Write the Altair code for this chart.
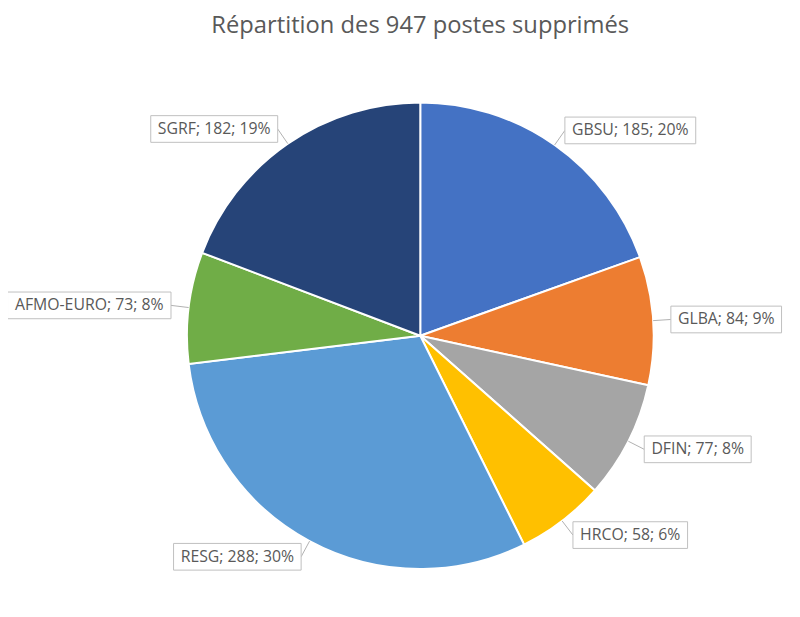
import altair as alt
import pandas as pd

categories = ["GBSU", "GLBA", "DFIN", "HRCO", "RESG", "AFMO-EURO", "SGRF"]
values = [185, 84, 77, 58, 288, 73, 182]
colors = ["#4472C4", "#ED7D31", "#A5A5A5", "#FFC000", "#5B9BD5", "#70AD47", "#264478"]

TITLE = "Répartition des 947 postes supprimés"
FONT = "Open Sans"
LABEL_SIZE = 16

# approximate Open Sans advance widths (em) for box sizing
CW = {"A": .633, "B": .647, "C": .631, "D": .731, "E": .556, "F": .517, "G": .728,
      "H": .738, "I": .279, "L": .519, "M": .907, "N": .764, "O": .789, "R": .618,
      "S": .549, "U": .733, ";": .268, " ": .26, "%": .823, "-": .322}


def text_w(s, size):
    return sum(CW.get(ch, .572) for ch in s) * size


total = sum(values)
labels = [f"{c}; {v}; {round(100 * v / total)}%" for c, v in zip(categories, values)]
df = pd.DataFrame({
    "idx": list(range(len(categories))),
    "cat": categories,
    "value": values,
    "label": labels,
})
df["bw"] = [text_w(s, LABEL_SIZE) + 14 for s in labels]

W, H = 752, 556
R_PIE = 236
R_LAB = 254

xs = alt.Scale(domain=[-W / 2, W / 2], nice=False, zero=False)
ys = alt.Scale(domain=[-H / 2, H / 2], nice=False, zero=False)

arcs = alt.Chart(df).mark_arc(outerRadius=R_PIE, stroke="white", strokeWidth=2).encode(
    theta=alt.Theta("value:Q", stack=True),
    order=alt.Order("idx:Q"),
    color=alt.Color("cat:N", scale=alt.Scale(domain=categories, range=colors), legend=None),
)

lab = (
    alt.Chart(df)
    .transform_joinaggregate(total="sum(value)")
    .transform_window(cum="sum(value)", sort=[alt.SortField("idx")], frame=[None, 0])
    .transform_calculate(mid="2*PI*(datum.cum - datum.value/2)/datum.total")
    .transform_calculate(ex=f"{R_PIE}*sin(datum.mid)")
    .transform_calculate(ey=f"{R_PIE}*cos(datum.mid)")
    .transform_calculate(ax=f"{R_LAB}*sin(datum.mid)")
    .transform_calculate(ay=f"{R_LAB}*cos(datum.mid)")
    .transform_calculate(side="sin(datum.mid) >= 0 ? 1 : -1")
    .transform_calculate(bx2="datum.ax + datum.side*datum.bw")
    .transform_calculate(by1="datum.ay - 13.5")
    .transform_calculate(by2="datum.ay + 13.5")
    .transform_calculate(tx="datum.ax + datum.side*datum.bw/2")
)

leader = lab.mark_rule(color="#B0B0B0", strokeWidth=1).encode(
    x=alt.X("ex:Q", scale=xs, axis=None),
    y=alt.Y("ey:Q", scale=ys, axis=None),
    x2="ax:Q",
    y2="ay:Q",
)

boxes = lab.mark_rect(fill="white", stroke="#BFBFBF", strokeWidth=1).encode(
    x=alt.X("ax:Q", scale=xs, axis=None),
    x2="bx2:Q",
    y=alt.Y("by1:Q", scale=ys, axis=None),
    y2="by2:Q",
)

texts = lab.mark_text(font=FONT, fontSize=LABEL_SIZE, color="#595959").encode(
    x=alt.X("tx:Q", scale=xs, axis=None),
    y=alt.Y("ay:Q", scale=ys, axis=None),
    text="label:N",
)

chart = (
    alt.layer(arcs, leader, boxes, texts)
    .properties(
        width=W,
        height=H,
        title=alt.TitleParams(TITLE, font=FONT, fontSize=24, fontWeight="normal",
                              color="#595959", anchor="middle", offset=23),
        padding={"left": 41, "top": 50, "right": 0, "bottom": 0},
        autosize="none",
        background="white",
    )
    .configure_view(stroke=None)
)

chart.save("out.html", embed_options={"renderer": "svg", "actions": False})
